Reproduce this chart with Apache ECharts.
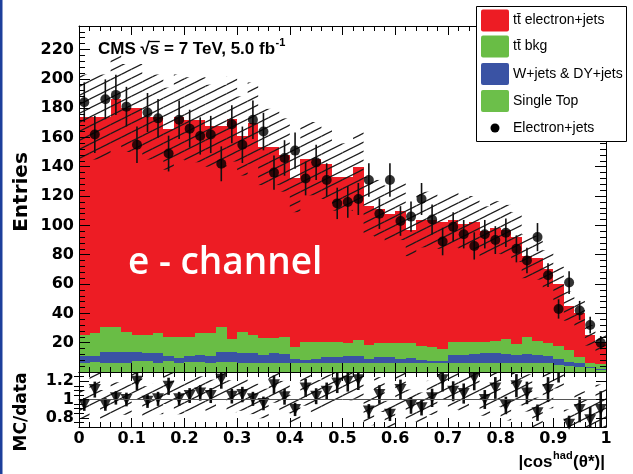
<!DOCTYPE html>
<html>
<head>
<meta charset="utf-8">
<script src="https://cdn.jsdelivr.net/npm/echarts@6/dist/echarts.min.js"></script>
<style>
  html, body { margin: 0; padding: 0; background: #fff; }
  #chart { width: 633px; height: 474px; }
</style>
</head>
<body>
<div id="chart"></div>
<script>
// |cos^had(theta*)| distribution, electron channel: 50 bins of width 0.02 on [0, 1]
const binWidth = 0.02;
const binLow = Array.from({ length: 50 }, (_, i) => +(i * binWidth).toFixed(2));

// Observed events per bin and their statistical uncertainty
const dataCounts = [184,162,186,189,181,155,177,173,149,172,166,161,162,142,169,155,172,164,136,146,
                    151,132,143,131,115,116,118,131,108,131,103,106,118,104,89,99,94,86,94,90,
                    95,84,76,92,66,43,61,42,32,20];
const dataErr = [13.6,12.7,13.6,13.7,13.5,12.4,13.3,13.2,12.2,13.1,12.9,12.7,12.7,11.9,13.0,12.4,13.1,12.8,11.7,12.1,
                 12.3,11.5,12.0,11.4,10.7,10.8,10.9,11.4,10.4,11.4,10.1,10.3,10.9,10.2,9.4,9.9,9.7,9.3,9.7,9.5,
                 9.7,9.2,8.7,9.6,8.1,6.6,7.8,6.5,5.7,4.5];

// Simulated contributions (stacked bottom to top: single top, W/DY+jets, ttbar bkg, ttbar e+jets)
const singleTop = [5.9,7.0,5.9,6.4,5.9,7.7,7.7,6.4,7.7,5.9,7.0,7.0,5.9,7.0,7.0,6.4,6.4,6.4,6.4,6.4,
                   6.4,6.4,5.9,6.4,6.4,5.9,5.9,5.9,5.9,5.9,5.9,5.9,5.9,5.9,5.9,5.9,5.9,5.9,5.9,5.9,
                   5.9,5.9,5.9,5.9,5.9,5.0,4.0,3.6,2.5,1.5];
const wDyJets = [5.0,3.9,7.5,7.0,8.0,6.2,5.0,6.8,3.2,3.4,3.9,4.6,5.0,6.4,6.4,6.8,6.3,5.2,6.3,5.9,
                 2.2,1.8,2.7,4.1,4.1,5.0,5.0,2.7,4.1,4.6,2.7,3.4,2.3,1.8,1.8,5.7,5.7,6.4,6.8,6.8,
                 6.4,5.7,6.4,5.7,5.0,3.6,3.0,2.3,1.1,0.5];
const ttBkg = [14.3,15.5,17.1,17.1,13.6,11.3,12.5,13.6,13.2,14.8,12.7,14.8,15.5,17.1,8.9,14.3,12.5,11.4,10.3,11.3,
               8.7,12.5,12.1,10.2,10.2,9.1,10.9,9.8,10.0,9.5,10.9,10.2,9.5,9.1,7.8,9.1,8.9,8.2,7.8,8.7,
               10.0,7.4,11.8,9.8,9.1,9.1,8.0,4.6,2.8,3.5];
const ttElectron = [148.8,147.6,143.5,155.5,152.5,154.8,148.8,147.2,141.9,149.9,148.4,145.6,141.6,137.5,150.2,133.5,144.3,130.5,130.5,124.4,
                    114.7,124.8,124.8,121.3,112.3,113.0,118.2,94.6,91.0,88.0,90.5,77.5,86.3,87.2,86.5,83.3,80.5,81.5,75.5,77.1,
                    74.7,73.0,54.9,56.6,50.0,42.3,30.0,29.5,18.6,14.0];
// Total simulation uncertainty (half width of the hatched band)
const mcUnc = [29,29,29,31,30,30,29,29,28,29,29,29,28,28,29,27,28,26,26,25,
               23,25,25,24,23,23,24,20,20,19,20,18,19,19,18,19,18,18,17,18,
               17,17,15,15,13,12,10,9,7,6];

// Lower panel: simulation / data per bin
const mcOverData = [0.946,1.108,0.946,1.018,1.0,1.198,0.982,1.007,1.144,1.007,1.043,1.072,1.043,1.22,1.036,1.054,1.007,0.957,1.162,1.029,
                    0.892,1.126,1.036,1.09,1.18,1.198,1.216,0.874,1.054,0.838,1.108,0.935,0.91,1.018,1.216,1.09,1.065,1.234,1.0,1.126,
                    0.935,1.151,1.072,0.856,1.108,1.40,0.73,0.89,0.78,0.89];

const ratioMajorTicks = [0.8, 1, 1.2];
const ratioMinorTicks = [0.75, 0.85, 0.9, 0.95, 1.05, 1.1, 1.15, 1.25];

const stackLayers = [
  { name: 'Single Top', values: singleTop, color: '#6cbf4a' },
  { name: 'W+jets & DY+jets', values: wDyJets, color: '#3a53a4' },
  { name: 'tt\u0304 bkg', values: ttBkg, color: '#69bd45' },
  { name: 'tt\u0304 electron+jets', values: ttElectron, color: '#ed1c24' }
];

// Diagonal hatch tile used for the uncertainty bands
function makeHatch() {
  const w = 18, h = 9;
  const c = document.createElement('canvas');
  c.width = w; c.height = h;
  const g = c.getContext('2d');
  g.strokeStyle = '#1a1a1a';
  g.lineWidth = 1.2;
  for (const dy of [-h, 0, h]) {
    g.beginPath();
    g.moveTo(-2, h + dy + 1);
    g.lineTo(w + 2, dy - 1);
    g.stroke();
  }
  return c;
}
const hatchFill = { image: makeHatch(), repeat: 'repeat' };

function clipToGrid(params, shape) {
  const cs = params.coordSys;
  return echarts.graphic.clipRectByRect(shape, { x: cs.x, y: cs.y, width: cs.width, height: cs.height });
}

function stackRenderer(color) {
  return function (params, api) {
    const a = api.coord([api.value(0), api.value(3)]);
    const b = api.coord([api.value(1), api.value(2)]);
    const x0 = Math.round(a[0]), x1 = Math.round(b[0]);
    const y0 = Math.round(a[1]), y1 = Math.round(b[1]);
    return { type: 'rect', shape: { x: x0, y: y0, width: x1 - x0, height: y1 - y0 }, style: { fill: color } };
  };
}

function hatchRenderer(params, api) {
  const a = api.coord([api.value(0), api.value(3)]);
  const b = api.coord([api.value(1), api.value(2)]);
  const shape = clipToGrid(params, { x: a[0], y: a[1], width: b[0] - a[0], height: b[1] - a[1] });
  if (!shape) return { type: 'group', children: [] };
  return { type: 'rect', shape: shape, style: { fill: hatchFill } };
}

function errorBarRenderer(lineWidth) {
  return function (params, api) {
    const cs = params.coordSys;
    const p1 = api.coord([api.value(0), api.value(1)]);
    const p2 = api.coord([api.value(0), api.value(2)]);
    const yTop = Math.max(cs.y, Math.min(p1[1], p2[1]));
    const yBot = Math.min(cs.y + cs.height, Math.max(p1[1], p2[1]));
    if (yBot <= yTop) return { type: 'group', children: [] };
    return { type: 'line', shape: { x1: p1[0], y1: yTop, x2: p1[0], y2: yBot },
             style: { stroke: '#111', lineWidth: lineWidth } };
  };
}

const mcTotal = binLow.map((_, i) => stackLayers.reduce((s, l) => s + l.values[i], 0));
const binCenter = binLow.map(lo => lo + binWidth / 2);

const series = [];
const base = binLow.map(() => 0);
stackLayers.forEach(layer => {
  const items = binLow.map((lo, i) => {
    const item = [lo, lo + binWidth, base[i], base[i] + layer.values[i]];
    base[i] += layer.values[i];
    return item;
  });
  series.push({
    name: layer.name, type: 'custom', xAxisIndex: 0, yAxisIndex: 0,
    renderItem: stackRenderer(layer.color), encode: { x: [0, 1], y: [2, 3] },
    data: items, silent: true
  });
});

series.push({
  name: 'uncertainty', type: 'custom', xAxisIndex: 0, yAxisIndex: 0,
  renderItem: hatchRenderer, encode: { x: [0, 1], y: [2, 3] }, silent: true,
  data: binLow.map((lo, i) => [lo, lo + binWidth, mcTotal[i] - mcUnc[i], mcTotal[i] + mcUnc[i]])
});

series.push({
  name: 'data errors', type: 'custom', xAxisIndex: 0, yAxisIndex: 0,
  renderItem: errorBarRenderer(1.6), encode: { x: 0, y: [1, 2] }, silent: true,
  data: binCenter.map((x, i) => [x, dataCounts[i] - dataErr[i], dataCounts[i] + dataErr[i]])
});

series.push({
  name: 'Electron+jets', type: 'scatter', xAxisIndex: 0, yAxisIndex: 0,
  symbol: 'circle', symbolSize: 10, itemStyle: { color: '#000' }, silent: true,
  data: binCenter.map((x, i) => [x, dataCounts[i]])
});

// Lower panel
series.push({
  name: 'ratio band', type: 'custom', xAxisIndex: 2, yAxisIndex: 2,
  renderItem: hatchRenderer, encode: { x: [0, 1], y: [2, 3] }, silent: true,
  data: binLow.map((lo, i) => {
    const rel = mcUnc[i] / mcTotal[i];
    return [lo, lo + binWidth, mcOverData[i] * (1 - rel), mcOverData[i] * (1 + rel)];
  })
});
series.push({
  name: 'unity', type: 'line', xAxisIndex: 2, yAxisIndex: 2, silent: true,
  symbol: 'none', lineStyle: { color: '#555', width: 1 }, data: [[0, 1], [1, 1]]
});
series.push({
  name: 'ratio errors', type: 'custom', xAxisIndex: 2, yAxisIndex: 2,
  renderItem: errorBarRenderer(2.6), encode: { x: 0, y: [1, 2] }, silent: true,
  data: binCenter.map((x, i) => {
    const e = mcOverData[i] * dataErr[i] / dataCounts[i];
    return [x, mcOverData[i] - e, mcOverData[i] + e];
  })
});
series.push({
  name: 'ratio', type: 'scatter', xAxisIndex: 2, yAxisIndex: 2, clip: true, silent: true,
  symbol: 'triangle', symbolRotate: 180, symbolSize: [12, 11], itemStyle: { color: '#000' },
  data: binCenter.map((x, i) => [x, mcOverData[i]])
});

const tickFont = { fontFamily: 'DejaVu Sans', fontWeight: 'bold', fontSize: 16, color: '#000' };
const blackLine = { color: '#000', width: 1 };

function xAxisDef(gridIndex, position, labels) {
  return {
    type: 'value', gridIndex, position, min: 0, max: 1, interval: 0.1, z: 10,
    axisLine: { show: true, onZero: false, lineStyle: blackLine },
    axisTick: { show: true, inside: true, length: 9, lineStyle: blackLine },
    minorTick: { show: true, splitNumber: 5, length: 5, lineStyle: blackLine },
    splitLine: { show: false },
    axisLabel: labels ? Object.assign({ show: true, margin: 4 }, tickFont) : { show: false }
  };
}

function mainYAxis(position, labels) {
  return {
    type: 'value', gridIndex: 0, position, min: 0, max: 236, interval: 20, z: 10,
    axisLine: { show: true, onZero: false, lineStyle: blackLine },
    axisTick: { show: true, inside: true, length: 11, lineStyle: blackLine },
    minorTick: { show: true, splitNumber: 5, length: 6, lineStyle: blackLine },
    splitLine: { show: false },
    axisLabel: labels ? Object.assign({
      show: true, margin: 5,
      formatter: v => (v > 0 && v % 20 === 0) ? String(v) : ''
    }, tickFont) : { show: false }
  };
}

function ratioYAxis(position, labels) {
  return {
    type: 'value', gridIndex: 1, position, min: 0.7, max: 1.3, z: 10,
    axisLine: { show: true, onZero: false, lineStyle: blackLine },
    axisTick: { show: true, inside: true, length: 10, lineStyle: blackLine, customValues: ratioMajorTicks },
    splitLine: { show: false },
    axisLabel: labels ? Object.assign({ show: true, margin: 5, customValues: ratioMajorTicks }, tickFont)
                      : { show: false }
  };
}

function ratioMinorAxis(position) {
  return {
    type: 'value', gridIndex: 1, position, min: 0.7, max: 1.3, z: 10,
    axisLine: { show: false },
    axisTick: { show: true, inside: true, length: 5, lineStyle: blackLine, customValues: ratioMinorTicks },
    splitLine: { show: false },
    axisLabel: { show: false }
  };
}

// Text measuring for hand-placed titles with superscripts
const measureCtx = document.createElement('canvas').getContext('2d');
function textWidth(str, font) { measureCtx.font = font; return measureCtx.measureText(str).width; }

const titleFont = 'bold 17px "Liberation Sans"';
const titleSupFont = 'bold 11px "Liberation Sans"';
const titleMain = 'CMS \u221As = 7 TeV, 5.0 fb';
const titleX = 98, titleY = 49;
const rootPrefixW = textWidth('CMS \u221A', titleFont);
const sW = textWidth('s', titleFont);
const titleMainW = textWidth(titleMain, titleFont);

const xNameFont = 'bold 17px "Liberation Sans"';
const xNameSupFont = 'bold 11px "Liberation Sans"';
const xNameParts = ['|cos', 'had', '(\u03B8*)|'];
const xNameRight = 605, xNameY = 462;
const w2 = textWidth(xNameParts[2], xNameFont);
const w1 = textWidth(xNameParts[1], xNameSupFont) + 1;
const w0 = textWidth(xNameParts[0], xNameFont);
const xNameLeft = xNameRight - w2 - w1 - w0;

const legendEntries = [
  { label: 'tt\u0304 electron+jets', color: '#ed1c24', y: 20.5 },
  { label: 'tt\u0304 bkg', color: '#69bd45', y: 46.5 },
  { label: 'W+jets & DY+jets', color: '#3a53a4', y: 74 },
  { label: 'Single Top', color: '#6cbf4a', y: 101 }
];
const legendFont = '14px "Liberation Sans"';

const graphics = [
  { type: 'rect', shape: { x: 0, y: 0, width: 2.5, height: 474 }, style: { fill: '#1d3f9b' }, z: 100 },
  // axis titles
  { type: 'text', x: 22, y: 192, rotation: Math.PI / 2, z: 100,
    style: { text: 'Entries', font: 'bold 20px "DejaVu Sans"', fill: '#000', align: 'center', verticalAlign: 'middle' } },
  { type: 'text', x: 22, y: 412, rotation: Math.PI / 2, z: 100,
    style: { text: 'MC/data', font: 'bold 17px "DejaVu Sans"', fill: '#000', align: 'center', verticalAlign: 'middle' } },
  { type: 'text', x: xNameLeft, y: xNameY, z: 100,
    style: { text: xNameParts[0], font: xNameFont, fill: '#000', verticalAlign: 'middle' } },
  { type: 'text', x: xNameLeft + w0 + 0.5, y: xNameY - 6, z: 100,
    style: { text: xNameParts[1], font: xNameSupFont, fill: '#000', verticalAlign: 'middle' } },
  { type: 'text', x: xNameLeft + w0 + w1, y: xNameY, z: 100,
    style: { text: xNameParts[2], font: xNameFont, fill: '#000', verticalAlign: 'middle' } },
  // experiment label
  { type: 'text', x: titleX, y: titleY, z: 100,
    style: { text: titleMain, font: titleFont, fill: '#000', verticalAlign: 'middle' } },
  { type: 'text', x: titleX + titleMainW + 0.5, y: titleY - 6, z: 100,
    style: { text: '-1', font: titleSupFont, fill: '#000', verticalAlign: 'middle' } },
  { type: 'line', z: 100, shape: { x1: titleX + rootPrefixW - 1, y1: titleY - 7.5, x2: titleX + rootPrefixW + sW + 0.5, y2: titleY - 7.5 },
    style: { stroke: '#000', lineWidth: 1.3 } },
  // channel label
  { type: 'text', x: 128, y: 263, z: 100,
    style: { text: 'e - channel', font: '600 37px "Open Sans"', fill: '#fff', verticalAlign: 'middle' } },
  // legend
  { type: 'rect', z: 100, shape: { x: 476.5, y: 6.5, width: 150, height: 135 },
    style: { fill: '#fff', stroke: '#000', lineWidth: 1 } }
];
legendEntries.forEach(e => {
  graphics.push({ type: 'rect', z: 101, shape: { x: 481, y: e.y - 11, width: 28, height: 22, r: 2 }, style: { fill: e.color } });
  graphics.push({ type: 'text', z: 101, x: 513, y: e.y,
    style: { text: e.label, font: legendFont, fill: '#000', verticalAlign: 'middle' } });
});
graphics.push({ type: 'circle', z: 101, shape: { cx: 495, cy: 128, r: 4.5 }, style: { fill: '#000' } });
graphics.push({ type: 'text', z: 101, x: 513, y: 128,
  style: { text: 'Electron+jets', font: legendFont, fill: '#000', verticalAlign: 'middle' } });

const chart = echarts.init(document.getElementById('chart'), null, { renderer: 'canvas' });
chart.setOption({
  animation: false,
  backgroundColor: '#fff',
  grid: [
    { left: 79, top: 26, width: 527, height: 346, outerBoundsMode: 'none', containLabel: false },
    { left: 79, top: 372, width: 527, height: 55, outerBoundsMode: 'none', containLabel: false }
  ],
  xAxis: [
    xAxisDef(0, 'bottom', false),
    xAxisDef(0, 'top', false),
    xAxisDef(1, 'bottom', true),
    xAxisDef(1, 'top', false)
  ],
  yAxis: [
    mainYAxis('left', true),
    mainYAxis('right', false),
    ratioYAxis('left', true),
    ratioYAxis('right', false),
    ratioMinorAxis('left'),
    ratioMinorAxis('right')
  ],
  series: series,
  graphic: graphics
});
</script>
</body>
</html>
